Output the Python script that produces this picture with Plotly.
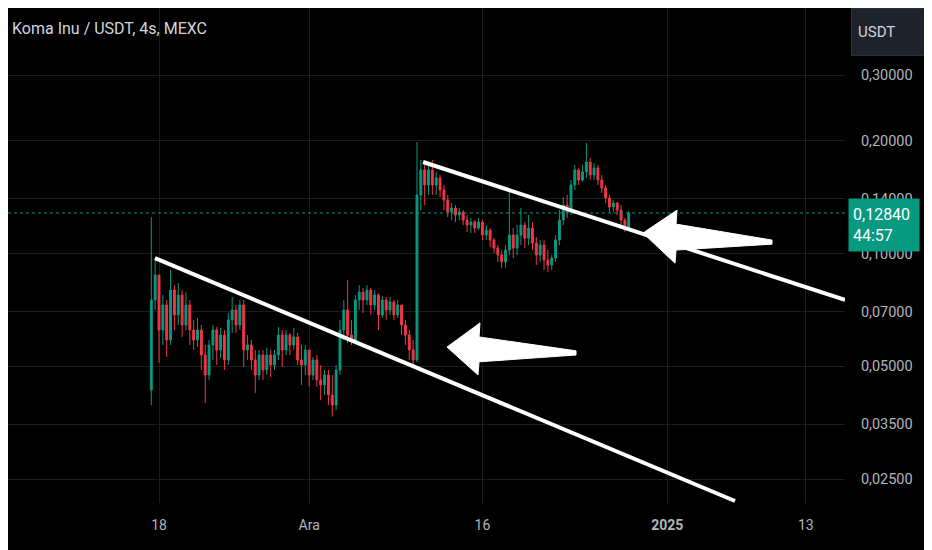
import math
import pandas as pd
import plotly.graph_objects as go

# Koma Inu / USDT velas, cada 8h desde el 17 nov 08:00
inicio = "2024-11-17 08:00"
apertura0 = 0.0432
cierre = [
    0.0752, 0.0877, 0.0625, 0.0729, 0.0588, 0.0799, 0.0686, 0.0775, 0.0645, 0.0729,
    0.0625, 0.0588, 0.0625, 0.0536, 0.0474, 0.0570, 0.0625, 0.0553, 0.0606, 0.0520,
    0.0665, 0.0707, 0.0645, 0.0729, 0.0553, 0.0570, 0.0520, 0.0474, 0.0536, 0.0489,
    0.0536, 0.0504, 0.0536, 0.0606, 0.0553, 0.0606, 0.0570, 0.0599, 0.0520, 0.0504,
    0.0553, 0.0474, 0.0520, 0.0460, 0.0446, 0.0474, 0.0419, 0.0394, 0.0489, 0.0625,
    0.0707, 0.0606, 0.0588, 0.0752, 0.0789, 0.0752, 0.0799, 0.0729, 0.0775, 0.0686,
    0.0752, 0.0707, 0.0743, 0.0686, 0.0729, 0.0645, 0.0606, 0.0553, 0.0520, 0.1434,
    0.1673, 0.1525, 0.1673, 0.1525, 0.1593, 0.1479, 0.1390, 0.1291, 0.1324, 0.1268,
    0.1291, 0.1229, 0.1192, 0.1214, 0.1170, 0.1214, 0.1121, 0.1156, 0.1087, 0.1035,
    0.0992, 0.0950, 0.1022, 0.1121, 0.1035, 0.1121, 0.1192, 0.1100, 0.1170, 0.1067,
    0.0992, 0.1054, 0.0961, 0.0932, 0.0973, 0.1087, 0.1229, 0.1348, 0.1291, 0.1525,
    0.1673, 0.1573, 0.1653, 0.1757, 0.1622, 0.1694, 0.1573, 0.1497, 0.1408, 0.1332,
    0.1365, 0.1307, 0.1229, 0.1170, 0.1284,
]
maximo = [
    0.1252, 0.0973, 0.0850, 0.0775, 0.0752, 0.0904, 0.0824, 0.0834, 0.0799, 0.0789,
    0.0752, 0.0665, 0.0673, 0.0645, 0.0570, 0.0588, 0.0645, 0.0637, 0.0633, 0.0625,
    0.0694, 0.0766, 0.0729, 0.0752, 0.0752, 0.0606, 0.0588, 0.0553, 0.0553, 0.0553,
    0.0560, 0.0553, 0.0553, 0.0637, 0.0625, 0.0625, 0.0614, 0.0633, 0.0614, 0.0570,
    0.0570, 0.0553, 0.0530, 0.0536, 0.0504, 0.0489, 0.0489, 0.0474, 0.0504, 0.0665,
    0.0752, 0.0850, 0.0665, 0.0775, 0.0824, 0.0809, 0.0824, 0.0809, 0.0799, 0.0784,
    0.0770, 0.0766, 0.0766, 0.0752, 0.0752, 0.0729, 0.0665, 0.0625, 0.0588, 0.1987,
    0.1779, 0.1746, 0.1757, 0.1779, 0.1653, 0.1622, 0.1525, 0.1434, 0.1365, 0.1348,
    0.1324, 0.1307, 0.1268, 0.1245, 0.1229, 0.1245, 0.1229, 0.1192, 0.1170, 0.1100,
    0.1054, 0.1022, 0.1054, 0.1461, 0.1170, 0.1192, 0.1324, 0.1214, 0.1268, 0.1214,
    0.1107, 0.1087, 0.1087, 0.1022, 0.0992, 0.1121, 0.1307, 0.1416, 0.1434, 0.1573,
    0.1725, 0.1694, 0.1725, 0.1975, 0.1801, 0.1746, 0.1725, 0.1622, 0.1525, 0.1434,
    0.1390, 0.1373, 0.1348, 0.1245, 0.1299,
]
minimo = [
    0.0394, 0.0707, 0.0511, 0.0570, 0.0530, 0.0570, 0.0625, 0.0645, 0.0599, 0.0625,
    0.0570, 0.0553, 0.0563, 0.0489, 0.0399, 0.0460, 0.0520, 0.0504, 0.0526, 0.0489,
    0.0504, 0.0614, 0.0614, 0.0625, 0.0498, 0.0520, 0.0489, 0.0424, 0.0460, 0.0460,
    0.0474, 0.0468, 0.0489, 0.0520, 0.0498, 0.0536, 0.0536, 0.0553, 0.0504, 0.0446,
    0.0474, 0.0441, 0.0460, 0.0441, 0.0406, 0.0419, 0.0394, 0.0367, 0.0382, 0.0474,
    0.0588, 0.0577, 0.0570, 0.0577, 0.0707, 0.0694, 0.0729, 0.0686, 0.0707, 0.0625,
    0.0673, 0.0665, 0.0686, 0.0665, 0.0673, 0.0606, 0.0570, 0.0520, 0.0498, 0.0514,
    0.1307, 0.1348, 0.1434, 0.1434, 0.1434, 0.1416, 0.1307, 0.1252, 0.1229, 0.1214,
    0.1229, 0.1192, 0.1142, 0.1135, 0.1135, 0.1156, 0.1087, 0.1087, 0.1041, 0.1004,
    0.0950, 0.0915, 0.0915, 0.0992, 0.0973, 0.0992, 0.1054, 0.1035, 0.1054, 0.1022,
    0.0932, 0.0950, 0.0904, 0.0893, 0.0904, 0.0950, 0.1054, 0.1192, 0.1245, 0.1268,
    0.1479, 0.1525, 0.1554, 0.1593, 0.1573, 0.1573, 0.1525, 0.1452, 0.1365, 0.1291,
    0.1291, 0.1268, 0.1192, 0.1142, 0.1156,
]
apertura = [apertura0] + cierre[:-1]
fechas = pd.date_range(inicio, periods=len(cierre), freq="8h")

# dibujos del usuario (líneas de tendencia y flechas) en coordenadas fecha/precio
tendencia1_x = ["2024-11-17 15:40", "2025-01-06 20:50"]
tendencia1_y = [0.0973, 0.02184]
tendencia2_x = ["2024-12-10 20:40", "2025-01-16 09:20"]
tendencia2_y = [0.1757, 0.0752]

flecha1_x = ["2024-12-12 22:26", "2024-12-15 19:00", "2024-12-15 17:00", "2024-12-24 02:30",
             "2024-12-24 02:30", "2024-12-15 17:00", "2024-12-15 14:50", "2024-12-12 22:26"]
flecha1_y = [0.0563, 0.0653, 0.0599, 0.0550, 0.0536, 0.0514, 0.0474, 0.0563]
flecha2_x = ["2024-12-29 21:40", "2025-01-01 20:25", "2025-01-01 18:15", "2025-01-10 01:40",
             "2025-01-10 01:40", "2025-01-01 18:15", "2025-01-01 16:15", "2024-12-29 21:40"]
flecha2_y = [0.1135, 0.1307, 0.1199, 0.1087, 0.1060, 0.1022, 0.0943, 0.1135]

# ejes
rango_x = ["2024-11-04 22:15", "2025-01-16 09:22"]
rango_y = [-1.6661, -0.3439]
ticks_x = ["2024-11-18", "2024-12-01", "2024-12-16", "2025-01-01", "2025-01-13"]
etiquetas_x = ["18", "Ara", "16", "<b>2025</b>", "13"]
ticks_y = [0.025, 0.035, 0.05, 0.07, 0.10, 0.14, 0.20, 0.30]
etiquetas_y = ["0,02500", "0,03500", "0,05000", "0,07000", "0,10000", "0,14000", "0,20000", "0,30000"]

VERDE = "#089981"
ROJO = "#f23645"
GRIS = "#b2b5be"

fig = go.Figure()

fig.add_trace(go.Candlestick(
    x=fechas, open=apertura, high=maximo, low=minimo, close=cierre,
    increasing=dict(line=dict(color=VERDE, width=1), fillcolor=VERDE),
    decreasing=dict(line=dict(color=ROJO, width=1), fillcolor=ROJO),
    whiskerwidth=0, showlegend=False, hoverinfo="skip",
))

# línea de precio actual
fig.add_trace(go.Scatter(
    x=rango_x, y=[cierre[-1], cierre[-1]], mode="lines",
    line=dict(color=VERDE, width=1, dash="dot"), showlegend=False, hoverinfo="skip",
))

for tx, ty in [(tendencia1_x, tendencia1_y), (tendencia2_x, tendencia2_y)]:
    fig.add_trace(go.Scatter(
        x=tx, y=ty, mode="lines", line=dict(color="white", width=4),
        showlegend=False, hoverinfo="skip",
    ))

for fx, fy in [(flecha1_x, flecha1_y), (flecha2_x, flecha2_y)]:
    fig.add_trace(go.Scatter(
        x=fx, y=fy, mode="lines", fill="toself", fillcolor="white",
        line=dict(color="white", width=1), showlegend=False, hoverinfo="skip",
    ))

fig.update_layout(
    width=932, height=550,
    margin=dict(l=0, r=95, t=0, b=55),
    paper_bgcolor="#000000",
    plot_bgcolor="#000000",
    font=dict(family="Roboto", color=GRIS, size=14),
    xaxis=dict(
        type="date", range=rango_x, rangeslider=dict(visible=False),
        tickvals=ticks_x, ticktext=etiquetas_x,
        showgrid=True, gridcolor="#1c1c1c", gridwidth=1,
        zeroline=False, showline=False,
        ticks="outside", ticklen=9, tickcolor="rgba(0,0,0,0)",
        tickfont=dict(size=14, color=GRIS),
    ),
    yaxis=dict(
        type="log", range=rango_y, side="right",
        tickvals=ticks_y, ticktext=etiquetas_y,
        showgrid=True, gridcolor="#1c1c1c", gridwidth=1,
        zeroline=False, showline=False,
        ticks="outside", ticklen=12, tickcolor="rgba(0,0,0,0)",
        tickfont=dict(size=14.5, color=GRIS),
    ),
    annotations=[
        dict(text="Koma Inu / USDT, 4s, MEXC", xref="paper", yref="paper",
             x=0, y=1, xanchor="left", yanchor="top", xshift=2, yshift=-9,
             showarrow=False, font=dict(size=16, color="#d1d4dc")),
        dict(text="USDT", xref="paper", yref="paper",
             x=1, y=1, xanchor="left", yanchor="top", xshift=6, yshift=0,
             showarrow=False, align="left", width=62, height=34, borderpad=6,
             bgcolor="#1e222d", bordercolor="#2a2e39", borderwidth=1,
             font=dict(size=15, color="#d1d4dc")),
        dict(text="0,12840<br>44:57", xref="paper", yref="y",
             x=1, y=math.log10(cierre[-1]), xanchor="left", yanchor="middle",
             xshift=3, yshift=-12, showarrow=False, align="left",
             width=62, height=44, borderpad=4, bgcolor=VERDE,
             font=dict(size=16, color="white")),
    ],
)

fig.write_html("out.html")
